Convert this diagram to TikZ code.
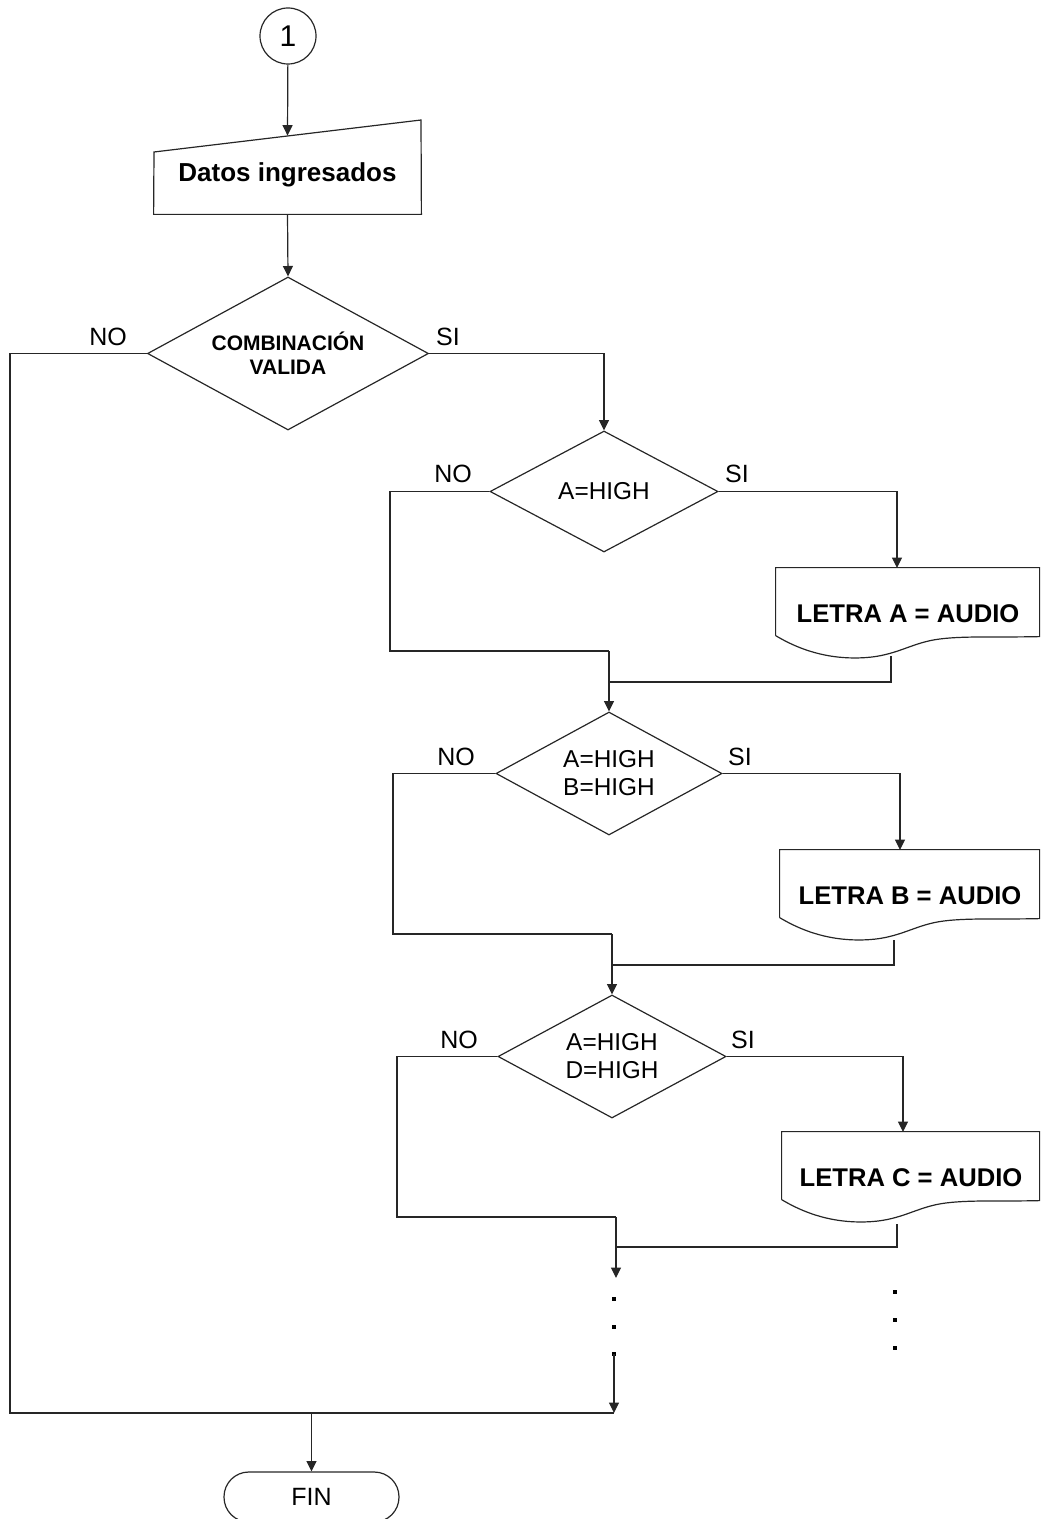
\documentclass[tikz,border=0pt]{standalone}
\usepackage{fontspec}
\setmainfont{Liberation Sans}
\usetikzlibrary{shapes.geometric,arrows.meta}
\begin{document}
\begin{tikzpicture}[x=0.5pt,y=-0.5pt,
  line/.style={draw=black!85, line width=0.6pt},
  arr/.style={line, -{Triangle[length=5.2pt,width=5pt]}},
  lbl/.style={inner sep=0pt, font=\fontsize{12.5}{14}\selectfont},
  dec/.style={line, shape=diamond, inner sep=0pt, align=center, font=\fontsize{12.2}{14}\selectfont},
  docbox/.style={inner sep=0pt, font=\bfseries\fontsize{12.8}{15}\selectfont},
  dotmark/.style={fill=black}
]
\useasboundingbox (0,0) rectangle (1041,1519);

% start connector
\node[line, circle, minimum size=28pt, inner sep=0pt, font=\fontsize{15}{17}\selectfont] (c1) at (288,36) {1};

% manual input
\node[inner sep=0pt, minimum width=133.5pt, minimum height=39pt, font=\bfseries\fontsize{13}{15}\selectfont] (mi) at (287.5,175) {Datos ingresados};
\draw[line] (mi.south west) -- (154,152) -- (421,120) -- (mi.south east) -- cycle;

% decisions
\node[dec, aspect=1.837, minimum width=140.5pt, minimum height=76.5pt, font=\bfseries\fontsize{10.5}{12}\selectfont] (d1) at (288,353.5) {COMBINACIÓN\\VALIDA};
\node[dec, aspect=1.88, minimum width=114pt, minimum height=60.5pt] (d2) at (604,491.5) {A=HIGH};
\node[dec, aspect=1.84, minimum width=113pt, minimum height=61.5pt] (d3) at (609,773.5) {A=HIGH\\B=HIGH};
\node[dec, aspect=1.85, minimum width=114pt, minimum height=61.5pt] (d4) at (612,1056.5) {A=HIGH\\D=HIGH};

% documents
\node[docbox, minimum width=132pt, minimum height=46pt] (docA) at (908,614) {LETRA A = AUDIO};
\node[docbox, minimum width=130pt, minimum height=46pt] (docB) at (910,896) {LETRA B = AUDIO};
\node[docbox, minimum width=129pt, minimum height=46pt] (docC) at (911,1178) {LETRA C = AUDIO};
\draw[line, shift={(docA.north west)}] (0,68) -- (0,0) -- (264,0) -- (264,69)
  .. controls (220,70) and (185,68) .. (160,72) .. controls (135,76) and (120,88) .. (90,90)
  .. controls (60,92) and (30,86) .. (0,68);
\draw[line, shift={(docB.north west)}] (0,68) -- (0,0) -- (260,0) -- (260,69)
  .. controls (220,70) and (185,68) .. (160,72) .. controls (135,76) and (120,88) .. (90,90)
  .. controls (60,92) and (30,86) .. (0,68);
\draw[line, shift={(docC.north west)}] (0,68) -- (0,0) -- (258,0) -- (258,69)
  .. controls (220,70) and (185,68) .. (160,72) .. controls (135,76) and (120,88) .. (90,90)
  .. controls (60,92) and (30,86) .. (0,68);

% terminator
\node[line, rounded corners=12.4pt, minimum width=87.5pt, minimum height=25pt, inner sep=0pt, font=\fontsize{12.5}{14}\selectfont] (fin) at (311.5,1497) {FIN};

% labels
\node[lbl] (no1) at (108,337) {NO};
\node[lbl] (si1) at (448,337) {SI};
\node[lbl] (no2) at (453,474) {NO};
\node[lbl] (si2) at (737,474) {SI};
\node[lbl] (no3) at (456,757) {NO};
\node[lbl] (si3) at (740,757) {SI};
\node[lbl] (no4) at (459,1040) {NO};
\node[lbl] (si4) at (743,1040) {SI};

% named points
\coordinate (inA) at (897,568);
\coordinate (inB) at (900,850);
\coordinate (inC) at (903,1132);
\coordinate (outA) at (891,656);
\coordinate (outB) at (894,940);
\coordinate (outC) at (897,1224);
\coordinate (m1) at (609,651);
\coordinate (j1) at (609,682);
\coordinate (m2) at (612,934);
\coordinate (j2) at (612,965);
\coordinate (m3) at (616,1217);
\coordinate (j3) at (616,1247);
\coordinate (ar3) at (616,1278);
\coordinate (dot3) at (614,1354);
\coordinate (jEnd) at (614,1413);
\coordinate (jFin) at (311.5,1413);

% connectors
\draw[arr] (c1) -- (mi.north);
\draw[arr] (mi.south) -- (d1.north);
\draw[line] (d1.west) -- (10,353.5) -- (10,1413) -- (jEnd);
\draw[arr] (d1.east) -| (d2.north);

\draw[line] (d2.west) -- (390,491.5) |- (m1);
\draw[arr] (d2.east) -| (inA);
\draw[line] (outA) |- (j1);
\draw[arr] (m1) -- (d3.north);

\draw[line] (d3.west) -- (393,773.5) |- (m2);
\draw[arr] (d3.east) -| (inB);
\draw[line] (outB) |- (j2);
\draw[arr] (m2) -- (d4.north);

\draw[line] (d4.west) -- (397,1056.5) |- (m3);
\draw[arr] (d4.east) -| (inC);
\draw[line] (outC) |- (j3);
\draw[arr] (m3) -- (ar3);

% continuation dots
\fill[dotmark] (614,1299) +(-1.6,-1.6) rectangle +(1.6,1.6);
\fill[dotmark] (614,1327) +(-1.6,-1.6) rectangle +(1.6,1.6);
\fill[dotmark] (dot3) +(-1.6,-1.6) rectangle +(1.6,1.6);
\fill[dotmark] (895,1292) +(-1.6,-1.6) rectangle +(1.6,1.6);
\fill[dotmark] (895,1320) +(-1.6,-1.6) rectangle +(1.6,1.6);
\fill[dotmark] (895,1348) +(-1.6,-1.6) rectangle +(1.6,1.6);

\draw[arr] (dot3) -- (jEnd);
\draw[arr] (jFin) -- (fin.north);
\end{tikzpicture}
\end{document}
